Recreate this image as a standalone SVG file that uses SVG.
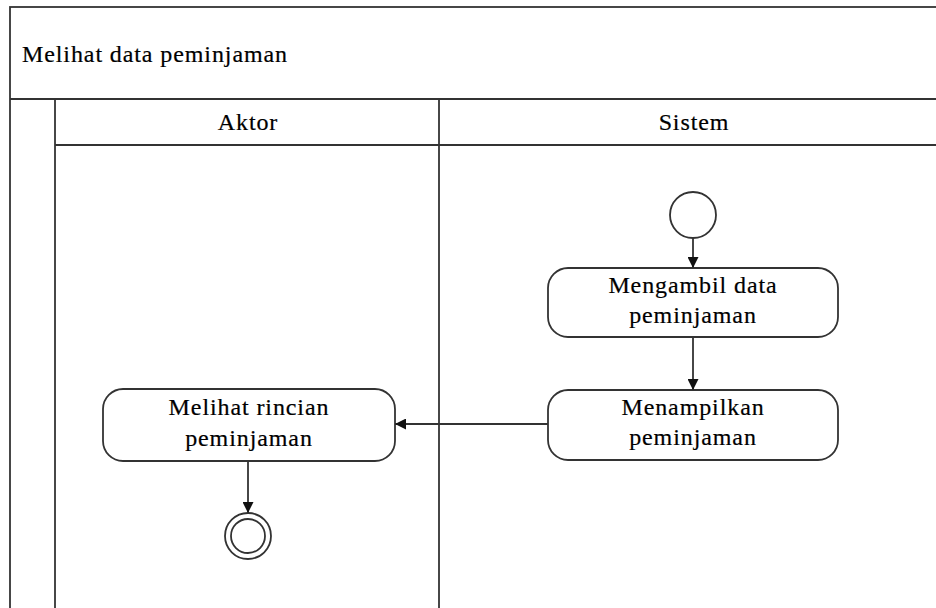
<svg xmlns="http://www.w3.org/2000/svg" width="936" height="608" viewBox="0 0 936 608">
<style>
.ln{fill:none;stroke:#333;stroke-width:1.8}
.act{fill:#fff;stroke:#333;stroke-width:1.8}
.t{font-family:'Liberation Serif','Times New Roman',serif;font-size:24px;letter-spacing:0.9px;fill:#000;stroke:#000;stroke-width:0.2}
.c{text-anchor:middle}
.edge{fill:none;stroke:#333;stroke-width:1.8}
</style>
<defs>
<marker id="ah" viewBox="0 0 10 10" refX="10" refY="5" markerWidth="11" markerHeight="11" markerUnits="userSpaceOnUse" orient="auto">
<path d="M0,0 L10,5 L0,10 z" fill="#111"/>
</marker>
</defs>
<rect width="936" height="608" fill="#fff"/>
<g id="frame">
<rect class="ln" x="10" y="7" width="950" height="620"/>
<line class="ln" x1="10" y1="99" x2="960" y2="99"/>
<line class="ln" x1="55" y1="99" x2="55" y2="620"/>
<line class="ln" x1="55" y1="145" x2="960" y2="145"/>
<line class="ln" x1="439" y1="99" x2="439" y2="620"/>
<text class="t" x="22" y="62">Melihat data peminjaman</text>
<text class="t c" x="248" y="130">Aktor</text>
<text class="t c" x="694" y="130">Sistem</text>
</g>
<g id="start">
<circle class="act" cx="693" cy="215" r="23"/>
</g>
<g id="mengambil">
<rect class="act" x="548" y="268" width="290" height="69" rx="20"/>
<text class="t c" x="693" y="293">Mengambil data</text>
<text class="t c" x="693" y="323">peminjaman</text>
</g>
<g id="menampilkan">
<rect class="act" x="548" y="390" width="290" height="70" rx="20"/>
<text class="t c" x="693" y="415">Menampilkan</text>
<text class="t c" x="693" y="445">peminjaman</text>
</g>
<g id="melihat">
<rect class="act" x="103" y="389" width="292" height="72" rx="20"/>
<text class="t c" x="249" y="415">Melihat rincian</text>
<text class="t c" x="249" y="446">peminjaman</text>
</g>
<g id="end">
<circle class="act" cx="248" cy="536" r="23"/>
<circle class="act" cx="248" cy="536" r="17"/>
</g>
<g id="connectors">
<line class="edge" x1="693" y1="238" x2="693" y2="268" marker-end="url(#ah)"/>
<line class="edge" x1="693" y1="337" x2="693" y2="390" marker-end="url(#ah)"/>
<line class="edge" x1="548" y1="424" x2="395" y2="424" marker-end="url(#ah)"/>
<line class="edge" x1="248" y1="461" x2="248" y2="513" marker-end="url(#ah)"/>
</g>
</svg>
